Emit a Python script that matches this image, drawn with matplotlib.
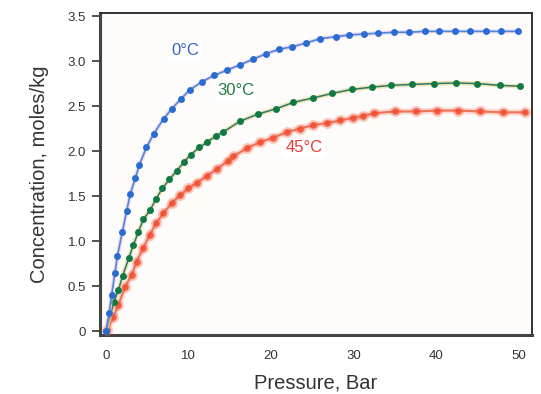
import matplotlib
matplotlib.use("Agg")
import matplotlib.pyplot as plt

plt.rcParams['font.family'] = ['Liberation Sans', 'DejaVu Sans']

# 0 °C series
p0 = [0, 0.38, 0.67, 1.09, 1.38, 1.97, 2.51, 2.93, 3.56, 4.06, 4.90, 5.77, 6.99, 7.99,
      9.08, 10.17, 11.63, 13.10, 14.69, 16.28, 17.82, 19.37, 20.96, 22.59, 24.27, 25.98,
      27.82, 29.50, 31.26, 33.01, 34.90, 36.74, 38.62, 40.42, 42.30, 44.18, 46.03, 47.91, 50.0]
c0 = [0, 0.196, 0.396, 0.648, 0.833, 1.096, 1.337, 1.52, 1.70, 1.85, 2.04, 2.19, 2.36, 2.47,
      2.58, 2.68, 2.77, 2.84, 2.90, 2.96, 3.02, 3.08, 3.13, 3.16, 3.20, 3.25,
      3.27, 3.29, 3.30, 3.31, 3.32, 3.32, 3.33, 3.33, 3.33, 3.33, 3.33, 3.33, 3.33]

# 30 °C series
p30 = [0, 0.97, 1.5, 2.02, 2.79, 3.31, 3.92, 4.53, 5.33, 6.06, 6.83, 7.68, 8.57, 9.45,
       10.26, 11.31, 12.28, 13.3, 14.2, 16.2, 18.4, 20.6, 22.7, 25.1, 27.4, 29.8, 32.2,
       34.6, 37.1, 39.8, 42.4, 45.0, 47.7, 50.2]
c30 = [0, 0.326, 0.455, 0.615, 0.815, 0.955, 1.10, 1.24, 1.34, 1.467, 1.585, 1.685, 1.78, 1.878,
       1.96, 2.04, 2.10, 2.167, 2.21, 2.33, 2.41, 2.47, 2.54, 2.59, 2.64, 2.685, 2.71,
       2.73, 2.74, 2.75, 2.756, 2.75, 2.73, 2.72]

# 45 °C series
p45 = [0.16, 0.9, 1.5, 2.3, 3.1, 3.7, 4.5, 5.3, 6.1, 6.95, 7.96, 8.97, 9.98, 11.0, 12.2,
       13.4, 14.8, 15.4, 17.05, 18.7, 20.3, 21.9, 23.5, 25.1, 26.8, 28.4, 30.0, 31.2,
       32.5, 35.0, 37.6, 40.1, 42.7, 45.3, 48.1, 50.8]
c45 = [0.01, 0.16, 0.29, 0.49, 0.62, 0.77, 0.92, 1.07, 1.20, 1.31, 1.42, 1.51, 1.585, 1.65, 1.72,
       1.80, 1.89, 1.94, 2.03, 2.10, 2.15, 2.21, 2.25, 2.29, 2.31, 2.34, 2.37, 2.39,
       2.42, 2.44, 2.44, 2.45, 2.45, 2.44, 2.43, 2.43]

x_ticks = [0, 10, 20, 30, 40, 50]
y_ticks = [0, 0.5, 1.0, 1.5, 2.0, 2.5, 3.0, 3.5]
y_tick_labels = ['0', '0.5', '1.0', '1.5', '2.0', '2.5', '3.0', '3.5']

series_labels = ['0°C', '30°C', '45°C']

fig = plt.figure(figsize=(5.41, 3.94), dpi=100)
ax = fig.add_axes([0.1848, 0.1497, 0.798, 0.818])
ax.set_facecolor('#fefcfa')

# 45 C (blurred red)
ax.plot(p45, c45, color='#f6a090', lw=4.5, alpha=0.35, solid_capstyle='round', zorder=2)
ax.plot(p45, c45, color='#f05a3c', lw=1.6, alpha=0.8, zorder=3)
ax.plot(p45, c45, ls='none', marker='o', ms=8, color='#f46a50', alpha=0.35, mec='none', zorder=3)
ax.plot(p45, c45, ls='none', marker='o', ms=4.8, color='#ee4a2c', alpha=0.8, mec='none', zorder=4)

# 30 C (green with yellowish halo)
ax.plot(p30, c30, color='#e8d480', lw=3.2, alpha=0.6, zorder=5)
ax.plot(p30, c30, color='#2a7a70', lw=1.1, zorder=6)
ax.plot(p30, c30, ls='none', marker='o', ms=5, color='#107a45', mec='none', zorder=7)

# 0 C (blue with pinkish halo)
ax.plot(p0, c0, color='#e8b8e0', lw=3.0, alpha=0.5, zorder=8)
ax.plot(p0, c0, color='#4a88e0', lw=1.2, zorder=9)
ax.plot(p0, c0, ls='none', marker='o', ms=5, color='#2a6cd0', mec='none', zorder=10)

box = dict(facecolor='white', edgecolor='none', pad=1.5)
ax.text(9.65, 3.12, series_labels[0], color='#3a62c4', fontsize=12, ha='center', va='center', bbox=box, zorder=12)
ax.text(15.7, 2.67, series_labels[1], color='#1f7a40', fontsize=12, ha='center', va='center', bbox=box, zorder=12)
ax.text(24.0, 2.04, series_labels[2], color='#ec3a32', fontsize=12, ha='center', va='center', bbox=box, zorder=12)

ax.set_xlim(-0.73, 51.6)
ax.set_ylim(-0.044, 3.537)
ax.set_xticks(x_ticks)
ax.set_yticks(y_ticks)
ax.set_yticklabels(y_tick_labels)

ax.tick_params(axis='x', length=0, pad=11, labelsize=9.5, labelcolor='#333333')
ax.tick_params(axis='y', length=6, width=1.2, pad=4, labelsize=9.5, labelcolor='#333333', color='#333333', direction='out')

for side in ['left', 'bottom']:
    ax.spines[side].set_linewidth(2.2)
    ax.spines[side].set_color('#444444')
for side in ['top', 'right']:
    ax.spines[side].set_linewidth(1.4)
    ax.spines[side].set_color('#333333')

ax.set_xlabel('Pressure, Bar', fontsize=14.5, color='#333333', va='center')
ax.xaxis.set_label_coords(0.5, -0.149)
ax.set_ylabel('Concentration, moles/kg', fontsize=14.5, color='#333333', va='center')
ax.yaxis.set_label_coords(-0.139, 0.498)

fig.savefig('out.png', dpi=100)
